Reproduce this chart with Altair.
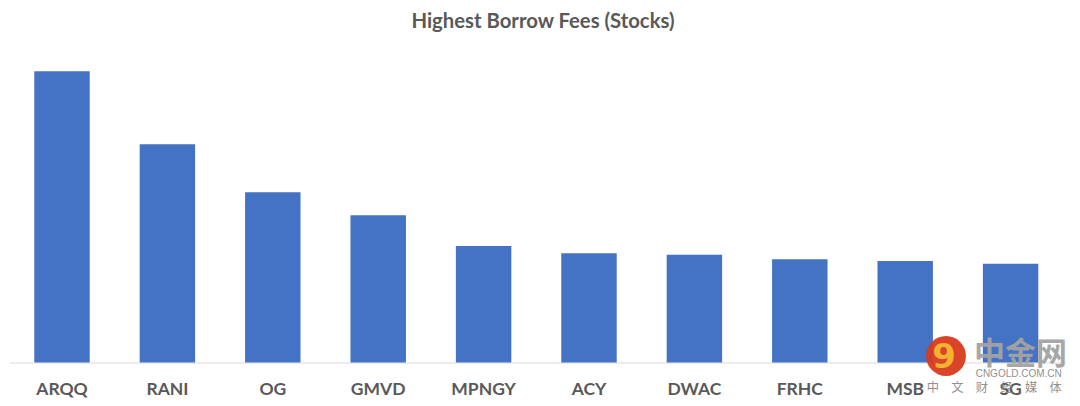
import altair as alt
import pandas as pd

tickers = ["ARQQ", "RANI", "OG", "GMVD", "MPNGY", "ACY", "DWAC", "FRHC", "MSB", "SG"]
fees = [291.2, 218.2, 170.3, 147.2, 116.5, 109.2, 107.8, 103.2, 101.5, 98.8]
title_text = "Highest Borrow Fees (Stocks)"

df = pd.DataFrame({"ticker": tickers, "fee": fees})

FONT = "Lato"
GRAY = "#595959"

bars = alt.Chart(df).mark_bar(color="#4472C4").encode(
    x=alt.X(
        "ticker:N",
        sort=None,
        title=None,
        scale=alt.Scale(paddingInner=0.474, paddingOuter=0.237),
        axis=alt.Axis(
            labelAngle=0,
            labelFont=FONT,
            labelFontSize=17.5,
            labelFontWeight="bold",
            labelColor=GRAY,
            labelBaseline="alphabetic",
            labelPadding=32,
            ticks=False,
            tickSize=0,
            domainColor="#d9d9d9",
            domainWidth=1,
            grid=False,
        ),
    ),
    y=alt.Y(
        "fee:Q",
        title=None,
        scale=alt.Scale(domain=[0, 300], nice=False),
        axis=None,
    ),
)

wm = pd.DataFrame({"k": [0]})

# chart title
title = alt.Chart(wm).mark_text(
    text=title_text, font=FONT, fontSize=20.3, fontWeight="bold",
    color=GRAY, align="center", baseline="alphabetic"
).encode(x=alt.value(533.7), y=alt.value(-34.8))

# watermark overlay (中金网)
circle = alt.Chart(wm).mark_point(
    filled=True, shape="circle", size=1590, color="#d83a1e", opacity=0.95
).encode(x=alt.value(936.7), y=alt.value(293.5))
swirl = alt.Chart(wm).mark_text(
    text="9", font="DejaVu Sans", fontSize=34, fontWeight="bold",
    color="#f7b733", align="center", baseline="middle", opacity=0.95
).encode(x=alt.value(934.7), y=alt.value(295.5))
wm_name = alt.Chart(wm).mark_text(
    text="中金网", font="Noto Sans CJK SC", fontSize=31, fontWeight="bold",
    color="#a3a3a3", align="left", baseline="alphabetic", opacity=0.95
).encode(x=alt.value(964.7), y=alt.value(302))
wm_url = alt.Chart(wm).mark_text(
    text="CNGOLD.COM.CN", font="Liberation Sans", fontSize=10,
    color="#8c8c8c", align="left", baseline="alphabetic", opacity=0.95
).encode(x=alt.value(966.4), y=alt.value(314.8))
wm_tag = alt.Chart(wm).mark_text(
    text="中\u3000文\u3000财\u3000经\u3000媒\u3000体", font="Noto Sans CJK SC", fontSize=12.3,
    color="#8c8c8c", align="left", baseline="alphabetic", opacity=0.95
).encode(x=alt.value(917.4), y=alt.value(330))

chart = alt.layer(bars, title, circle, swirl, wm_name, wm_url, wm_tag).properties(
    width=1054,
    height=300,
    autosize=alt.AutoSizeParams(type="none"),
    padding={"left": 1.3, "top": 54.5, "right": 8.5, "bottom": 36},
).configure_view(stroke=None)

chart.save("out.html", embed_options={"renderer": "svg", "actions": False})
